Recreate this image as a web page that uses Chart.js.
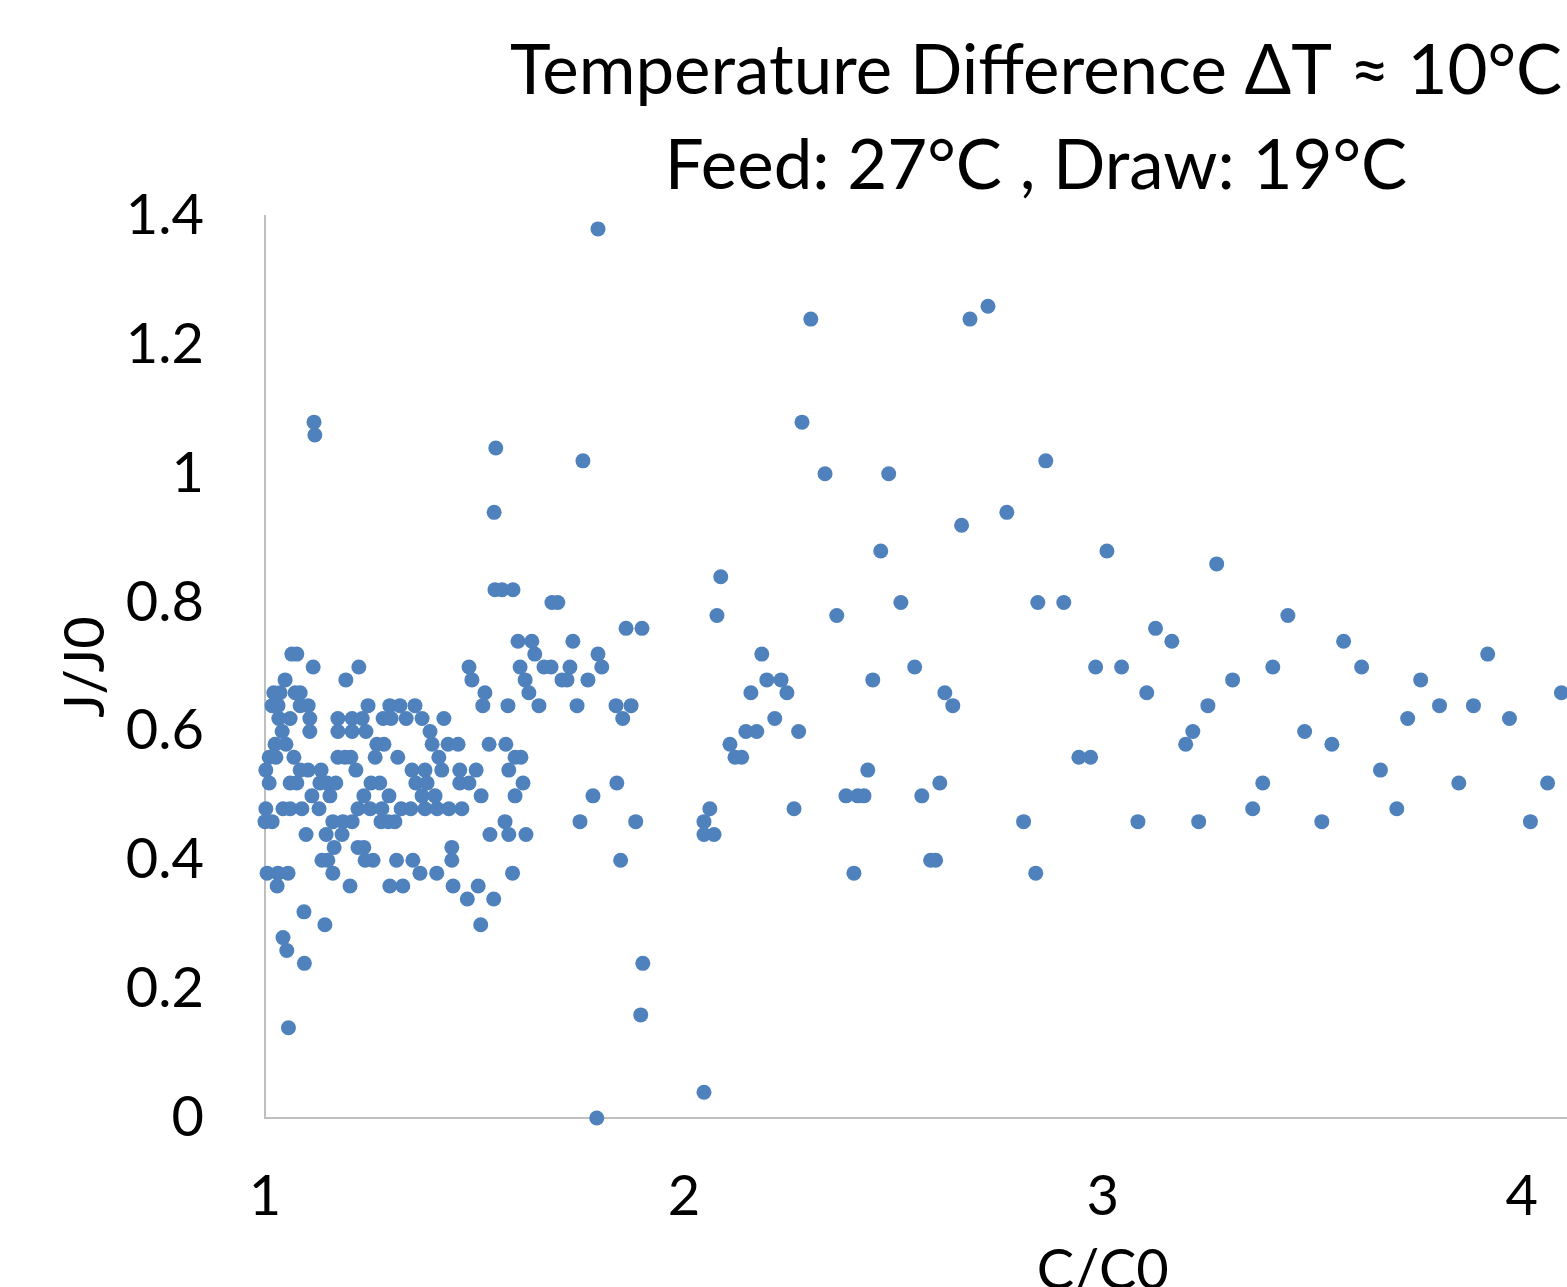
<!DOCTYPE html>
<html><head><meta charset="utf-8">
<script src="https://cdn.jsdelivr.net/npm/chart.js@4.4.1/dist/chart.umd.min.js"></script>
<style>
html,body{margin:0;padding:0;background:#fff;overflow:hidden;width:1567px;height:1287px}
#wrap{position:absolute;left:0;top:0;width:1948px;height:1305px}
</style></head>
<body><div id="wrap"><canvas id="c" width="1948" height="1305"></canvas></div>
<script>
const titleLines = ['Temperature Difference \u0394T \u2248 10\u00B0C', 'Feed: 27\u00B0C , Draw: 19\u00B0C'];
const xAxisTitle = 'C/C0';
const yAxisTitle = 'J/J0';
const xTickValues = [1, 2, 3, 4];
const yTickStep = 0.2;

// J/J0 levels (rows) and the C/C0 values of the points found on each row
const jLevels = [1.38, 1.26, 1.24, 1.08, 1.06, 1.04, 1.02, 1.00, 0.94, 0.92, 0.88, 0.86, 0.84, 0.82, 0.80, 0.78, 0.76, 0.74, 0.72, 0.70, 0.68, 0.66, 0.64, 0.62, 0.60, 0.58, 0.56, 0.54, 0.52, 0.50, 0.48, 0.46, 0.44, 0.42, 0.40, 0.38, 0.36, 0.34, 0.32, 0.30, 0.28, 0.26, 0.24, 0.16, 0.14, 0.04, 0.00];
const cAtLevel = [
  [1.795],
  [2.726],
  [2.303, 2.683],
  [1.117, 2.282],
  [1.119],
  [1.551],
  [1.759, 2.864],
  [2.337, 2.489],
  [1.547, 2.771],
  [2.663],
  [2.470, 3.010],
  [3.272],
  [2.088],
  [1.549, 1.566, 1.592],
  [1.685, 1.699, 2.518, 2.845, 2.907],
  [2.079, 2.365, 3.442],
  [1.862, 1.900, 3.126],
  [1.604, 1.637, 1.735, 3.165, 3.575],
  [1.064, 1.076, 1.644, 1.795, 2.186, 3.919],
  [1.115, 1.224, 1.487, 1.609, 1.666, 1.683, 1.728, 1.804, 2.551, 2.983, 3.045, 3.406, 3.618],
  [1.048, 1.193, 1.494, 1.621, 1.709, 1.721, 1.771, 2.198, 2.232, 2.451, 3.310, 3.759],
  [1.021, 1.036, 1.072, 1.084, 1.525, 1.630, 2.160, 2.246, 2.623, 3.105, 4.095],
  [1.017, 1.031, 1.084, 1.103, 1.246, 1.298, 1.322, 1.358, 1.520, 1.580, 1.654, 1.745, 1.838, 1.874, 2.642, 3.251, 3.804, 3.885],
  [1.033, 1.060, 1.107, 1.174, 1.208, 1.232, 1.282, 1.301, 1.337, 1.375, 1.427, 1.854, 2.217, 3.728, 3.971],
  [1.041, 1.107, 1.174, 1.208, 1.241, 1.394, 2.148, 2.174, 2.274, 3.215, 3.482],
  [1.024, 1.050, 1.267, 1.284, 1.399, 1.437, 1.461, 1.535, 1.575, 2.110, 3.198, 3.547],
  [1.010, 1.026, 1.069, 1.174, 1.191, 1.205, 1.263, 1.317, 1.415, 1.597, 1.611, 2.122, 2.138, 2.943, 2.971],
  [1.002, 1.084, 1.103, 1.134, 1.217, 1.351, 1.382, 1.422, 1.465, 1.504, 1.582, 2.439, 3.663],
  [1.010, 1.060, 1.076, 1.131, 1.148, 1.169, 1.253, 1.274, 1.360, 1.387, 1.465, 1.487, 1.616, 1.840, 2.611, 3.382, 3.850, 4.062],
  [1.112, 1.155, 1.236, 1.296, 1.375, 1.406, 1.516, 1.597, 1.783, 2.387, 2.415, 2.430, 2.568],
  [1.002, 1.043, 1.060, 1.088, 1.129, 1.222, 1.251, 1.279, 1.325, 1.348, 1.382, 1.411, 1.439, 1.470, 2.062, 2.263, 3.358, 3.702],
  [1.000, 1.017, 1.162, 1.186, 1.208, 1.277, 1.294, 1.310, 1.573, 1.752, 1.885, 2.048, 2.811, 3.084, 3.229, 3.523, 4.021],
  [1.098, 1.146, 1.184, 1.537, 1.582, 1.623, 2.048, 2.072],
  [1.165, 1.222, 1.236, 1.446],
  [1.136, 1.150, 1.239, 1.258, 1.314, 1.353, 1.446, 1.849, 2.589, 2.601],
  [1.005, 1.031, 1.055, 1.162, 1.370, 1.410, 1.591, 2.406, 2.840],
  [1.029, 1.203, 1.298, 1.329, 1.449, 1.509],
  [1.483, 1.546],
  [1.093],
  [1.143, 1.515],
  [1.043],
  [1.052],
  [1.094, 1.902],
  [1.897],
  [1.056],
  [2.048],
  [1.792]
];

const points = [];
jLevels.forEach((j, i) => cAtLevel[i].forEach(c => points.push({x: c, y: j})));

const FONT = 'Lato';
const titlePlugin = {
  id: 'titleLines',
  afterDraw(chart) {
    const ctx = chart.ctx;
    ctx.save();
    ctx.fillStyle = '#000';
    ctx.font = '69px ' + FONT;
    ctx.textAlign = 'center';
    ctx.textBaseline = 'alphabetic';
    ctx.fillText(titleLines[0], 1036, 94);
    ctx.fillText(titleLines[1], 1036, 189);
    ctx.restore();
  }
};

new Chart(document.getElementById('c'), {
  type: 'scatter',
  data: {
    datasets: [{
      data: points,
      backgroundColor: '#4F81BD',
      borderWidth: 0,
      pointRadius: 7.5,
      pointHoverRadius: 7.5,
      clip: false
    }]
  },
  options: {
    responsive: false,
    animation: false,
    events: [],
    layout: {padding: {top: 216, right: 0, bottom: 0, left: 0}},
    plugins: {legend: {display: false}, tooltip: {enabled: false}, title: {display: false}},
    scales: {
      x: {
        type: 'linear',
        min: 1, max: 5,
        afterFit: s => { s.height = 1305 - 1118; },
        afterBuildTicks: s => { s.ticks = xTickValues.map(v => ({value: v})); },
        grid: {display: false, drawTicks: false, tickLength: 0},
        border: {display: true, color: '#BFBFBF', width: 2},
        ticks: {autoSkip: false, maxRotation: 0, color: '#000', font: {family: FONT, size: 56}, padding: 45},
        title: {display: true, text: xAxisTitle, color: '#000', font: {family: FONT, size: 56}, padding: 0}
      },
      y: {
        type: 'linear',
        min: 0, max: 1.4,
        afterFit: s => { s.width = 265; },
        grid: {display: false, drawTicks: false, tickLength: 0},
        border: {display: true, color: '#BFBFBF', width: 2},
        ticks: {stepSize: yTickStep, color: '#000', font: {family: FONT, size: 56}, padding: 61,
                callback: v => String(Math.round(v * 10) / 10)},
        title: {display: true, text: yAxisTitle, color: '#000', font: {family: FONT, size: 56}, padding: {top: 52, bottom: 0}}
      }
    }
  },
  plugins: [titlePlugin]
});
</script>
</body></html>
